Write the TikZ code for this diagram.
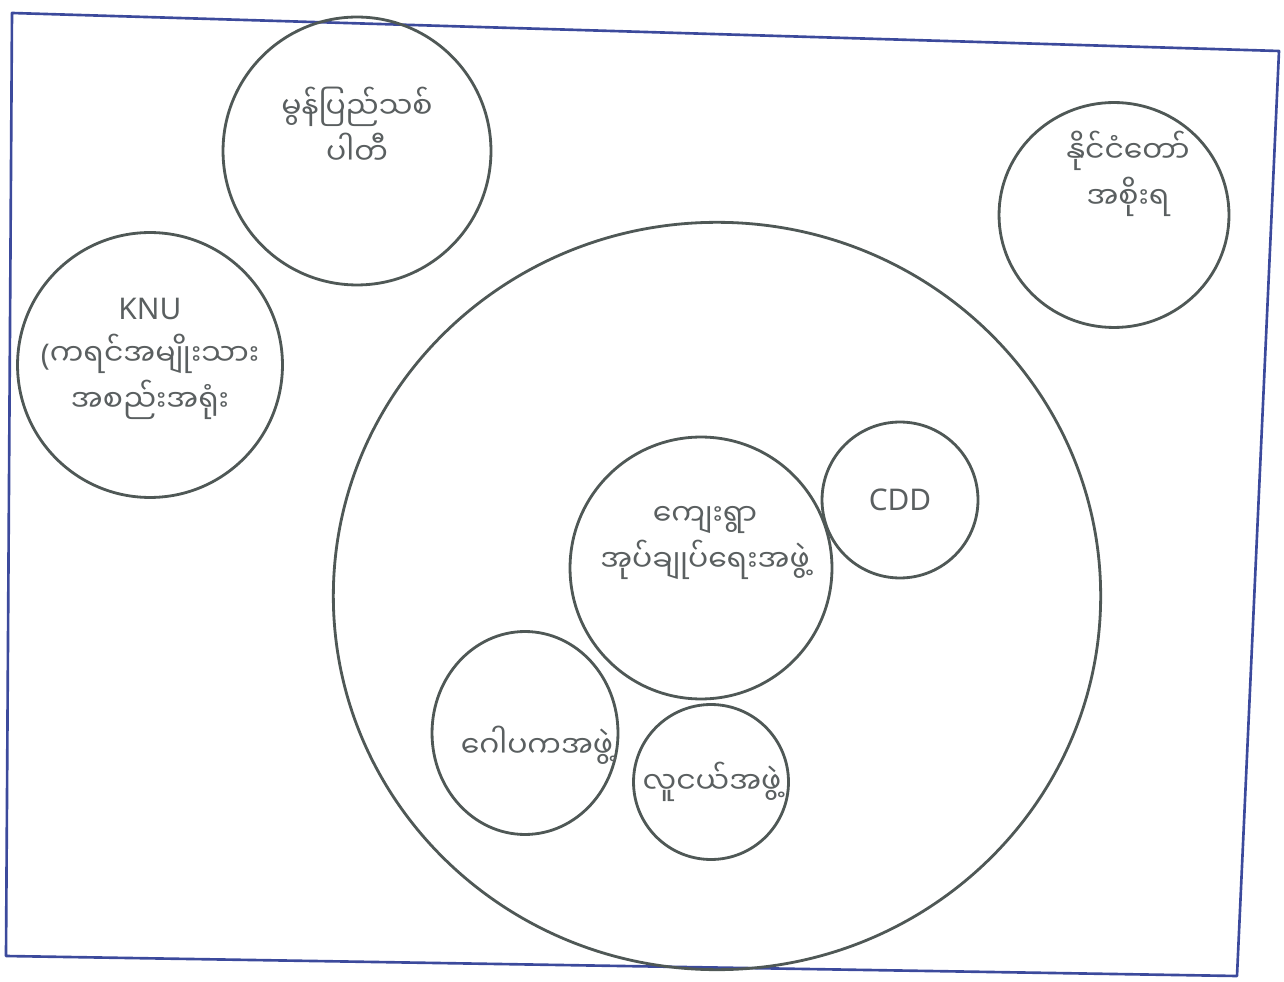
\documentclass[tikz,border=0pt]{standalone}
\usepackage{fontspec}
\setmainfont{Noto Sans}
\newfontfamily\mmfont[Script=Myanmar]{Noto Sans Myanmar UI}
\usetikzlibrary{shapes.geometric}

\definecolor{penblue}{HTML}{3C4A9C}
\definecolor{ringgray}{HTML}{4F5856}
\definecolor{labelgray}{HTML}{5A5F60}

\begin{document}
\begin{tikzpicture}[x=0.02cm, y=-0.02cm,
    ring/.style={draw=ringgray, line width=1.6pt, circle, inner sep=0pt},
    oval/.style={draw=ringgray, line width=1.6pt, ellipse, inner sep=0pt},
    lbl/.style={text=labelgray, align=center, inner sep=0pt, font=\mmfont\fontsize{17}{26}\selectfont},
    frame/.style={draw=penblue, line width=1.5pt, line cap=round, line join=round}]
    \useasboundingbox (0,0) rectangle (1284,982);

    % Frame
    \coordinate (tl) at (12,13);
    \coordinate (tr) at (1279,51);
    \coordinate (br) at (1237,976);
    \coordinate (bl) at (6,956);
    \draw[frame] (tl) -- (tr) -- (br) -- (bl) -- cycle;

    % Outside circles
    \node[ring, minimum size=5.36cm] (mon) at (357,151) {};
    \node[lbl] (mon-t) at (357,126) {မွန်ပြည်သစ်\\ပါတီ};

    \node[oval, minimum width=4.6cm, minimum height=4.5cm] (nation) at (1114,215) {};
    \node[lbl] (nation-t) at (1128,174) {နိုင်ငံတော်\\အစိုးရ};

    \node[ring, minimum size=5.3cm] (knu) at (150,365) {};
    \node[lbl] (knu-t) at (150,359) {{\rmfamily KNU}\\{\rmfamily(}ကရင်အမျိုးသား\\အစည်းအရုံး};

    % Village circle and its groups
    \node[oval, minimum width=15.35cm, minimum height=14.95cm] (village) at (717,596) {};

    \node[ring, minimum size=5.24cm] (admin) at (701,568) {};
    \node[lbl] (admin-t) at (705,543) {ကျေးရွာ\\အုပ်ချုပ်ရေးအဖွဲ့};

    \node[ring, minimum size=3.12cm] (cdd) at (900,500) {};
    \node[lbl, font=\rmfamily\fontsize{17}{26}\selectfont] (cdd-t) at (900,500) {CDD};

    \node[oval, minimum width=3.72cm, minimum height=4.06cm] (gopaka) at (525,733) {};
    \node[lbl] (gopaka-t) at (537,745) {ဂေါပကအဖွဲ့};

    \node[ring, minimum size=3.1cm] (youth) at (711,782) {};
    \node[lbl] (youth-t) at (712,782) {လူငယ်အဖွဲ့};
\end{tikzpicture}
\end{document}
